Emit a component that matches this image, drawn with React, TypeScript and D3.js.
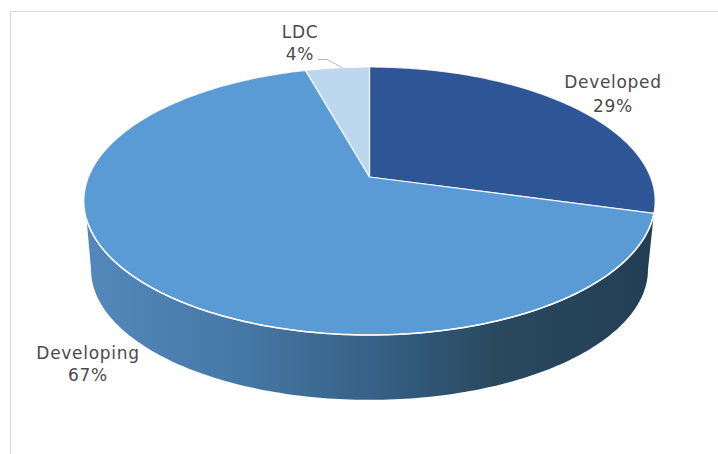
import React from "react";
import * as d3 from "d3";

const categories = ["Developed", "Developing", "LDC"];
const shares = [29.3, 66.4, 4.3];
const percentLabels = ["29%", "67%", "4%"];
const sliceColors = ["#2e5596", "#5b9bd5", "#bdd7ee"];
const sideStops: [number, string][] = [
  [0, "#5488bc"],
  [0.25, "#477aa8"],
  [0.5, "#376187"],
  [0.72, "#29495f"],
  [1, "#223e54"],
];
const labelPos = [
  { x: 613, y1: 88, y2: 112 },
  { x: 88, y1: 359, y2: 381 },
  { x: 300, y1: 38, y2: 60 },
];

const W = 718, H = 454;
const CX = 369.5, P = 0.179;
const topRim = { cy: 177, k: 281, m: 129.7 };
const botRim = { cy: 246, k: 274, m: 126.3 };

type Rim = { cy: number; k: number; m: number };
const project = (r: Rim, a: number): [number, number] => {
  const X = Math.sin(a), Y = Math.cos(a), d = 1 + P * Y;
  return [CX + (r.k * X) / d, r.cy - (r.m * Y) / d];
};
const samples = (a0: number, a1: number) => {
  const n = Math.max(2, Math.ceil(Math.abs(a1 - a0) * 60));
  return d3.range(n + 1).map((i) => a0 + ((a1 - a0) * i) / n);
};
const line = d3.line<[number, number]>();
const rad = (deg: number) => (deg * Math.PI) / 180;

export default function App() {
  const arcs = d3.pie<number>().sort(null)(shares);
  const apex: [number, number] = [CX, topRim.cy];
  const sideTop = samples(arcs[0].endAngle, rad(252)).map((a) => project(topRim, a));
  const sideBot = samples(rad(259.7), rad(100.3)).map((a) => project(botRim, a));
  const sidePath = line([...sideTop, ...sideBot]) + "Z";
  const rimFront = line(sideTop) ?? "";
  const ldcMid = project(topRim, rad(353.5));
  return (
    <svg width={W} height={H} style={{ position: "absolute", left: 0, top: 0 }}>
      <defs>
        <linearGradient id="side" gradientUnits="userSpaceOnUse" x1={85} x2={655} y1={0} y2={0}>
          {sideStops.map(([o, c]) => (
            <stop key={o} offset={o} stopColor={c} />
          ))}
        </linearGradient>
      </defs>
      <rect width={W} height={H} fill="#fff" />
      <path d="M10.5 454V11.5H718" fill="none" stroke="#d9d9d9" strokeWidth={1.2} />
      <path d={sidePath} fill="url(#side)" />
      {arcs.map((arc, i) => {
        const pts = samples(arc.startAngle, arc.endAngle).map((a) => project(topRim, a));
        return (
          <path
            key={categories[i]}
            d={line([apex, ...pts]) + "Z"}
            fill={sliceColors[i]}
            stroke="#fff"
            strokeOpacity={0.85}
            strokeWidth={1.2}
            strokeLinejoin="round"
          />
        );
      })}
      <path d={rimFront} fill="none" stroke="#fff" strokeWidth={1.5} />
      <path
        d={line([[318, 59.5], [327, 59.5], [ldcMid[0], ldcMid[1]]]) ?? ""}
        fill="none"
        stroke="#a6a6a6"
        strokeWidth={0.8}
      />
      {categories.map((c, i) => (
        <text key={c} textAnchor="middle" fontFamily="'DejaVu Sans'" fontSize={17} fill="#4a4a4a" letterSpacing={0.7}>
          <tspan x={labelPos[i].x} y={labelPos[i].y1}>{c}</tspan>
          <tspan x={labelPos[i].x} y={labelPos[i].y2}>{percentLabels[i]}</tspan>
        </text>
      ))}
    </svg>
  );
}
